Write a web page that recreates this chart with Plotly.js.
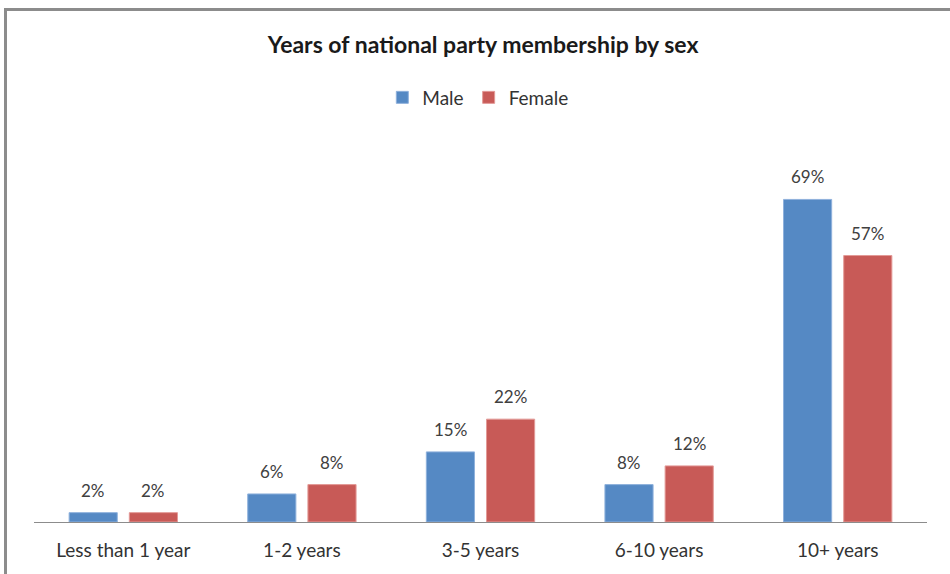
<!DOCTYPE html>
<html>
<head>
<meta charset="utf-8">
<script src="https://cdn.plot.ly/plotly-3.0.1.min.js"></script>
<style>
  html, body { margin: 0; padding: 0; background: #fff; }
  #wrap { position: relative; width: 950px; height: 574px; overflow: hidden; }
  #chart { width: 950px; height: 574px; }
  #frame { position: absolute; left: 4px; top: 8px; width: 1000px; height: 1000px;
           border-left: 3px solid #8c8c8c; border-top: 3px solid #8c8c8c;
           box-sizing: border-box; pointer-events: none; }
</style>
</head>
<body>
<div id="wrap">
  <div id="chart"></div>
  <div id="frame"></div>
</div>
<script>
const categories = ["Less than 1 year", "1-2 years", "3-5 years", "6-10 years", "10+ years"];
const maleValues = [2, 6, 15, 8, 69];
const femaleValues = [2, 8, 22, 12, 57];
const seriesNames = ["Male", "Female"];

const FONT = "Lato, 'Open Sans', sans-serif";
const maleColor = "#5589c4";
const femaleColor = "#c85a57";

const traces = [
  { type: "bar", name: seriesNames[0], x: categories, y: maleValues,
    marker: { color: maleColor, line: { color: "#8fb1dc", width: 1 } }, hoverinfo: "y" },
  { type: "bar", name: seriesNames[1], x: categories, y: femaleValues,
    marker: { color: femaleColor, line: { color: "#e39a97", width: 1 } }, hoverinfo: "y" }
];

const annotations = [];
[maleValues, femaleValues].forEach((vals, s) => {
  vals.forEach((v, i) => {
    annotations.push({
      x: categories[i], y: v, xref: "x", yref: "y",
      text: v + "%", showarrow: false,
      xshift: s === 0 ? -30 : 30, yshift: 10, yanchor: "bottom",
      font: { family: FONT, size: 17, color: "#404040" }
    });
  });
});

const layout = {
  width: 950, height: 574,
  margin: { l: 34, r: 23, t: 148, b: 52 },
  paper_bgcolor: "#fff", plot_bgcolor: "#fff",
  title: { text: "<b>Years of national party membership by sex</b>",
           x: 0.503, xanchor: "center", xref: "paper", y: 0.921, yanchor: "middle", yref: "container",
           font: { family: FONT, size: 23, color: "#1a1a1a" } },
  showlegend: true,
  legend: { orientation: "h", x: 0.497, xanchor: "center", y: 1.135, yanchor: "middle",
            font: { family: FONT, size: 19, color: "#333" }, itemwidth: 30, traceorder: "normal" },
  barmode: "group", bargap: 0.326, bargroupgap: 0.2,
  xaxis: { showline: true, linecolor: "#8c8c8c", linewidth: 1, ticks: "", showgrid: false,
           ticklabelstandoff: 11,
           tickfont: { family: FONT, size: 19, color: "#333" }, fixedrange: true },
  yaxis: { range: [0, 80], visible: false, showgrid: false, zeroline: false, fixedrange: true },
  annotations: annotations
};

Plotly.newPlot("chart", traces, layout, { displayModeBar: false, staticPlot: true });
</script>
</body>
</html>
